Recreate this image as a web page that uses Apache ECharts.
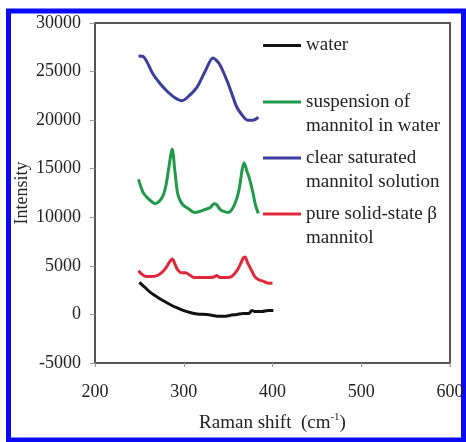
<!DOCTYPE html>
<html>
<head>
<meta charset="utf-8">
<script src="https://cdn.jsdelivr.net/npm/echarts@6.0.0/dist/echarts.min.js"></script>
<style>
  html, body { margin: 0; padding: 0; background: #fff; }
  #raman { width: 466px; height: 442px; }
</style>
</head>
<body>
<div id="raman"></div>
<script>
// values (Raman shift in cm-1, intensity)
const waterShift = [250, 256, 262, 270, 277, 285, 292, 300, 307, 315, 326, 333, 339, 346, 352, 360, 367, 373, 377, 380, 388, 395, 401];
const waterInt = [3300, 2800, 2300, 1800, 1400, 1000, 700, 400, 200, 50, 0, -100, -200, -200, -100, 0, 100, 100, 400, 300, 300, 400, 400];

const suspShift = [249, 254, 259, 264, 268, 273, 277, 280, 283, 287, 290, 293, 296, 300, 305, 312, 318, 324, 330, 334, 337, 341, 345, 350, 355, 360, 363, 366, 368, 371, 374, 378, 381, 384];
const suspInt = [13900, 12600, 12000, 11600, 11400, 11700, 12300, 13300, 15000, 17000, 14800, 12500, 11700, 11200, 10900, 10500, 10600, 10800, 11000, 11400, 11300, 10800, 10600, 10500, 10900, 12000, 13200, 15000, 15600, 14800, 14000, 12500, 11200, 10400];

const clearShift = [249, 255, 265, 273, 281, 290, 298, 306, 315, 324, 333, 340, 349, 355, 360, 366, 372, 378, 384];
const clearInt = [26600, 26500, 24800, 23800, 23000, 22300, 22000, 22500, 23400, 25000, 26400, 25800, 24000, 22500, 21300, 20500, 20000, 20000, 20300];

const solidShift = [249, 252, 256, 262, 270, 275, 280, 284, 287, 290, 293, 297, 302, 306, 312, 320, 328, 334, 337, 341, 348, 354, 360, 364, 367, 369, 372, 376, 380, 384, 390, 396, 400];
const solidInt = [4500, 4200, 3950, 3900, 4000, 4300, 4800, 5400, 5700, 5200, 4600, 4300, 4300, 4100, 3800, 3800, 3800, 3850, 4000, 3800, 3800, 3900, 4500, 5200, 5800, 5900, 5300, 4600, 3900, 3600, 3400, 3200, 3200];

const seriesNames = ["water", "suspension of\nmannitol in water", "clear saturated\nmannitol solution", "pure solid-state β\nmannitol"];
const seriesColors = ["#111111", "#1f9a48", "#3d3d9e", "#e0283a"];

const serif = "'Liberation Serif', 'Times New Roman', serif";

function pairs(xs, ys) {
  return xs.map((x, i) => [x, ys[i]]);
}

function lineSeries(idx, xs, ys) {
  return {
    name: seriesNames[idx],
    type: "line",
    data: pairs(xs, ys),
    symbol: "none",
    smooth: 0.3,
    color: seriesColors[idx],
    lineStyle: { width: 3, color: seriesColors[idx] }
  };
}

// one legend per entry; an empty first text line pushes the label down
// so the line mark sits beside the first line of a two-line label
function legendEntry(idx, top) {
  return {
    data: [seriesNames[idx]],
    left: 263,
    top: top,
    padding: 0,
    icon: "rect",
    itemWidth: 38,
    itemHeight: 3,
    selectedMode: false,
    formatter: function (name) {
      let lines = name.split("\n");
      if (lines.length === 1) return "{a|" + name + "}";
      return "{e| }\n" + lines.map(s => "{a|" + s + "}").join("\n");
    },
    textStyle: {
      fontFamily: serif,
      fontSize: 19,
      color: "#222",
      rich: {
        a: { fontFamily: serif, fontSize: 19, lineHeight: 24, color: "#222" },
        e: { fontSize: 10, lineHeight: 24 }
      }
    }
  };
}

let plain = function (v) { return String(v); };

let chart = echarts.init(document.getElementById("raman"));
let option = {
  backgroundColor: "#fff",
  animation: false,
  graphic: [
    {
      type: "rect",
      shape: { x: 8.5, y: 11, width: 455, height: 429 },
      style: { fill: "none", stroke: "#0a0af5", lineWidth: 5 },
      silent: true
    }
  ],
  legend: [
    legendEntry(0, 36),
    legendEntry(1, 73),
    legendEntry(2, 129),
    legendEntry(3, 185)
  ],
  grid: {
    left: 95,
    right: 16,
    top: 23,
    bottom: 79,
    outerBoundsMode: "none",
    containLabel: false
  },
  xAxis: [
    {
      type: "value",
      position: "bottom",
      min: 200,
      max: 600,
      interval: 100,
      name: "Raman shift  (cm{sup|-1})",
      nameLocation: "middle",
      nameGap: 49,
      nameTextStyle: {
        fontFamily: serif,
        fontSize: 19,
        color: "#222",
        rich: {
          sup: { fontFamily: serif, fontSize: 11, color: "#222", padding: [0, 0, 12, 0] }
        }
      },
      axisLine: { show: true, onZero: false, lineStyle: { color: "#555", width: 2 } },
      axisTick: { show: true, length: 4, lineStyle: { color: "#999" } },
      axisLabel: { margin: 20, fontFamily: serif, fontSize: 18, color: "#222", formatter: plain },
      splitLine: { show: false }
    },
    {
      // top edge of the frame
      type: "value",
      position: "top",
      min: 200,
      max: 600,
      axisLine: { show: true, onZero: false, lineStyle: { color: "#555", width: 2 } },
      axisTick: { show: false },
      axisLabel: { show: false },
      splitLine: { show: false }
    }
  ],
  yAxis: [
    {
      type: "value",
      position: "left",
      min: -5000,
      max: 30000,
      interval: 5000,
      name: "Intensity",
      nameLocation: "middle",
      nameGap: 64,
      nameMoveOverlap: false,
      nameTextStyle: { fontFamily: serif, fontSize: 18, color: "#222" },
      axisLine: { show: true, onZero: false, lineStyle: { color: "#555", width: 2 } },
      axisTick: { show: true, length: 5, lineStyle: { color: "#999" } },
      axisLabel: { margin: 14, fontFamily: serif, fontSize: 18, color: "#222", formatter: plain },
      splitLine: { show: false }
    },
    {
      // right edge of the frame
      type: "value",
      position: "right",
      min: -5000,
      max: 30000,
      axisLine: { show: true, onZero: false, lineStyle: { color: "#555", width: 2 } },
      axisTick: { show: false },
      axisLabel: { show: false },
      splitLine: { show: false }
    }
  ],
  series: [
    lineSeries(0, waterShift, waterInt),
    lineSeries(1, suspShift, suspInt),
    lineSeries(2, clearShift, clearInt),
    lineSeries(3, solidShift, solidInt)
  ]
};
chart.setOption(option);
</script>
</body>
</html>
